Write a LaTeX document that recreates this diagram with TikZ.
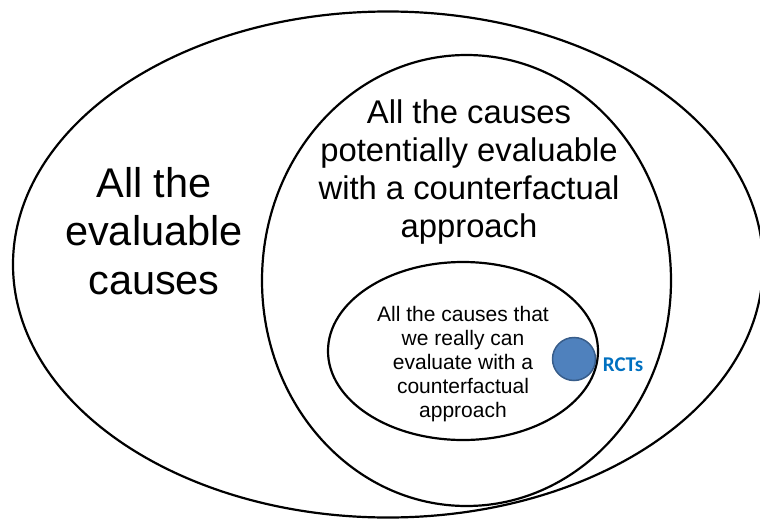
\documentclass[tikz,border=0pt]{standalone}
\usepackage{fontspec}
\setmainfont{Liberation Sans}
\newfontfamily\rctfont{Carlito}
\usetikzlibrary{shapes.geometric}
\definecolor{RCTFill}{RGB}{79,129,189}
\definecolor{RCTEdge}{RGB}{56,93,138}
\definecolor{RCTText}{RGB}{0,112,192}

\begin{document}
\begin{tikzpicture}[x=1pt,y=-1pt,
    causeset/.style={draw,ellipse,line width=2.2pt,inner sep=0pt},
    settext/.style={align=center,inner sep=0pt}]
      \useasboundingbox (0,0) rectangle (760,519);
      \clip (0,0) rectangle (760,519);
      \node[causeset,minimum width=750,minimum height=506] (all) at (388,264.5) {};
      \node[causeset,minimum width=409,minimum height=451] (potential) at (466.5,280.5) {};
      \node[causeset,minimum width=270,minimum height=178] (real) at (463,351) {};
      \node[circle,draw=RCTEdge,fill=RCTFill,line width=1.5pt,minimum size=43,inner sep=0pt] (rct) at (574,359) {};
      \node[settext,font=\fontsize{41.5}{48.5}\selectfont] (alltext) at (154,231) {All the\\evaluable\\causes};
      \node[settext,font=\fontsize{32.8}{38.3}\selectfont] (potentialtext) at (469,172) {All the causes\\potentially evaluable\\with a counterfactual\\approach};
      \node[settext,font=\fontsize{21}{24}\selectfont] (realtext) at (463,364.5) {All the causes that\\we really can\\evaluate with a\\counterfactual\\approach};
      \node[inner sep=0pt,text=RCTText,font=\rctfont\bfseries\fontsize{21}{25}\selectfont] (rctlabel) at (623,365) {RCTs};
    \end{tikzpicture}
\end{document}
